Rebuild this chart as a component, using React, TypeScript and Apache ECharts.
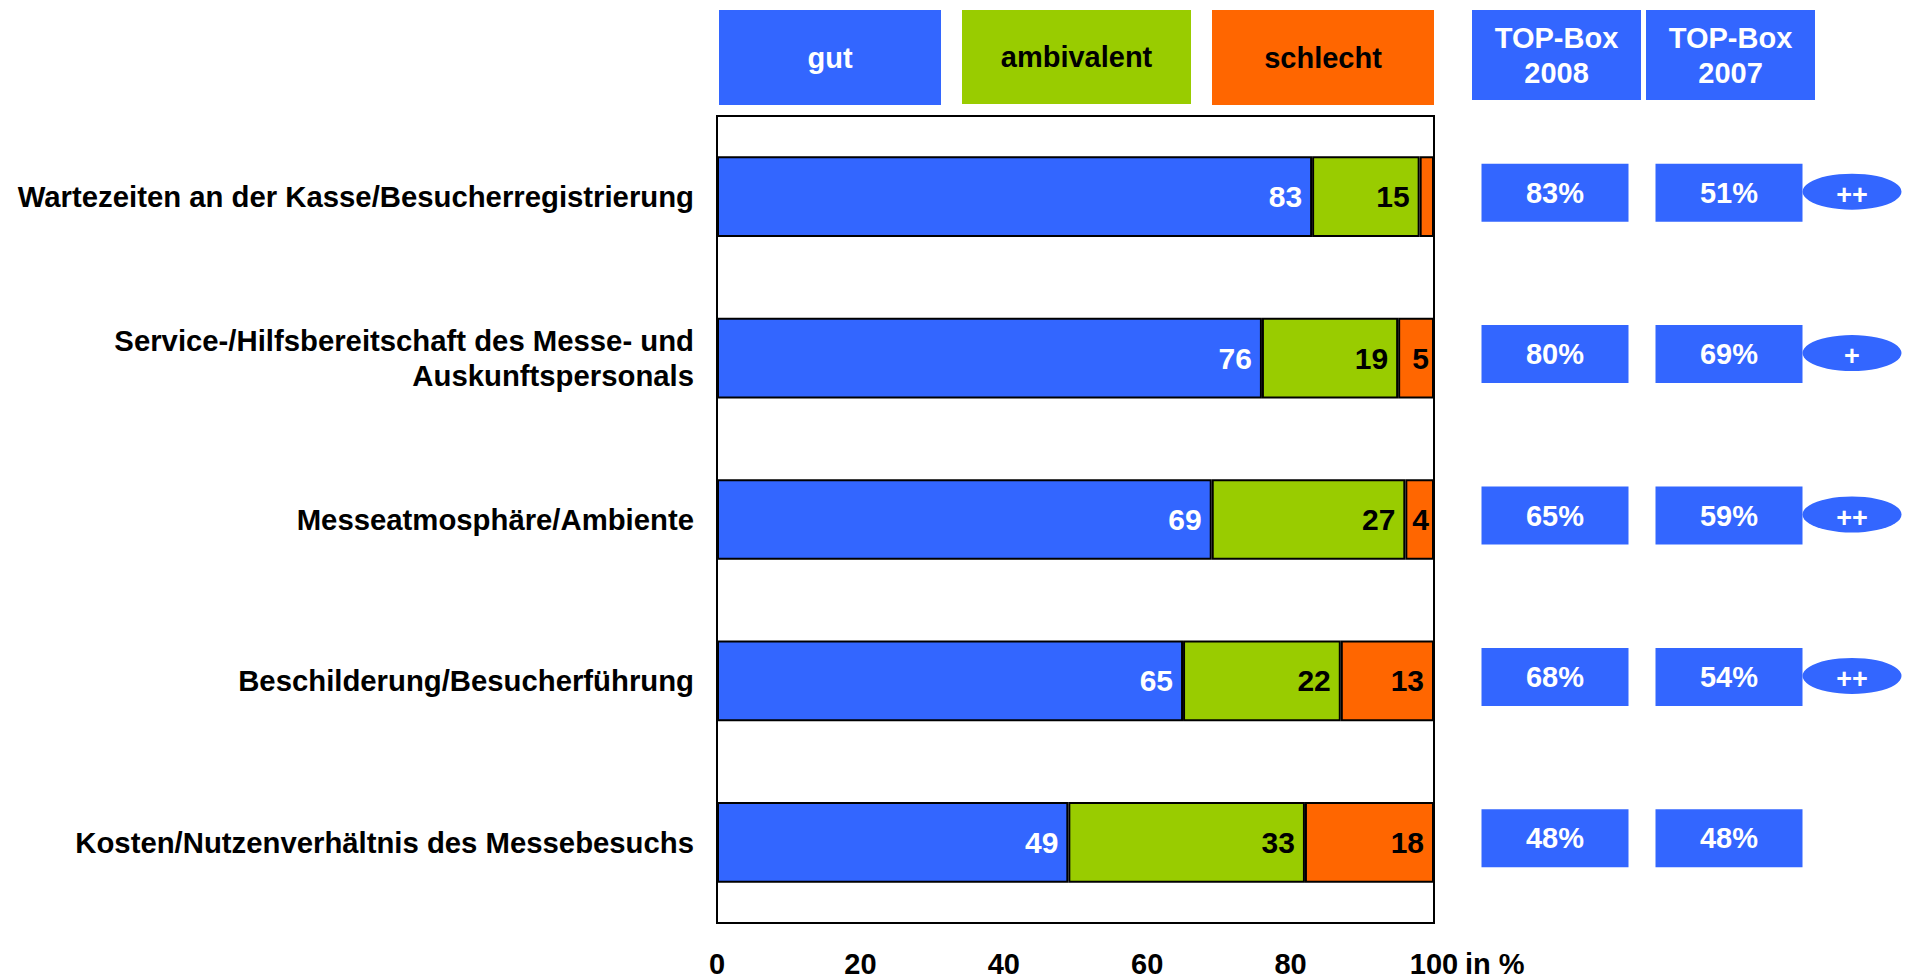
import React, { useEffect, useRef } from "react";
import * as echarts from "echarts";

const categories = [
  "Wartezeiten an der Kasse/Besucherregistrierung",
  "Service-/Hilfsbereitschaft des Messe- und\nAuskunftspersonals",
  "Messeatmosphäre/Ambiente",
  "Beschilderung/Besucherführung",
  "Kosten/Nutzenverhältnis des Messebesuchs",
];
const seriesNames = ["gut", "ambivalent", "schlecht"];
const gutValues = [83, 76, 69, 65, 49];
const ambivalentValues = [15, 19, 27, 22, 33];
const schlechtValues = [2, 5, 4, 13, 18];
const topBoxYears = ["2008", "2007"];
const topBox2008 = [83, 80, 65, 68, 48];
const topBox2007 = [51, 69, 59, 54, 48];
const trend = ["++", "+", "++", "++", ""];

const BLUE = "#3366FF";
const GREEN = "#99CC00";
const ORANGE = "#FF6600";
const FONT = "'Liberation Sans', Arial, Helvetica, sans-serif";

export default function App() {
  const ref = useRef<HTMLDivElement>(null);
  useEffect(() => {
    document.body.style.margin = "0";
    if (!ref.current) return;
    const chart = echarts.init(ref.current, undefined, { renderer: "svg" });

    const barLabel = (color: string) => ({
      show: true,
      position: "insideRight" as const,
      distance: 10,
      color,
      fontSize: 30,
      fontWeight: "bold" as const,
      fontFamily: FONT,
    });
    const mkData = (vals: number[]) =>
      vals.map((v) => ({
        value: v,
        label: { show: v >= 3, distance: v < 8 ? 5 : 10 },
      }));
    const colors = [BLUE, GREEN, ORANGE];
    const labelColors = ["#fff", "#000", "#000"];
    const valueSets = [gutValues, ambivalentValues, schlechtValues];

    const headerBox = (
      x: number,
      y: number,
      w: number,
      h: number,
      fill: string,
      text: string,
      color: string
    ) => ({
      type: "group",
      children: [
        { type: "rect", shape: { x, y, width: w, height: h }, style: { fill } },
        {
          type: "text",
          x: x + w / 2,
          y: y + h / 2,
          style: {
            text,
            fill: color,
            fontSize: 29,
            fontWeight: "bold",
            fontFamily: FONT,
            align: "center",
            verticalAlign: "middle",
            lineHeight: 35,
          },
        },
      ],
    });

    const option: any = {
      animation: false,
      textStyle: { fontFamily: FONT },
      grid: [
        {
          left: 717,
          right: 476,
          top: 116,
          bottom: 57,
          show: true,
          borderColor: "#000",
          borderWidth: 2,
          backgroundColor: "transparent",
        },
        { left: 1468, width: 348, top: 116, bottom: 57 },
      ],
      xAxis: [
        {
          type: "value",
          gridIndex: 0,
          min: 0,
          max: 100,
          interval: 20,
          splitLine: { show: false },
          axisLine: { show: false },
          axisTick: { show: false },
          axisLabel: {
            margin: 26,
            color: "#000",
            fontSize: 29,
            fontWeight: "bold",
            fontFamily: FONT,
          },
          name: "in %",
          nameLocation: "end",
          nameGap: 31,
          nameTextStyle: {
            color: "#000",
            fontSize: 29,
            fontWeight: "bold",
            fontFamily: FONT,
            align: "left",
            verticalAlign: "top",
            padding: [26, 0, 0, 0],
          },
        },
        {
          type: "category",
          gridIndex: 1,
          data: topBoxYears,
          show: false,
        },
      ],
      yAxis: [
        {
          type: "category",
          gridIndex: 0,
          data: categories,
          inverse: true,
          axisLine: { show: false },
          axisTick: { show: false },
          splitLine: { show: false },
          axisLabel: {
            margin: 23,
            color: "#000",
            fontSize: 29.3,
            fontWeight: "bold",
            fontFamily: FONT,
            lineHeight: 35,
            align: "right",
          },
        },
        {
          type: "category",
          gridIndex: 1,
          data: categories,
          inverse: true,
          show: false,
        },
      ],
      series: [
        ...seriesNames.map((name, si) => ({
          name,
          type: "bar",
          stack: "total",
          xAxisIndex: 0,
          yAxisIndex: 0,
          barWidth: "50%",
          itemStyle: { color: colors[si], borderColor: "#000", borderWidth: 2 },
          label: barLabel(labelColors[si]),
          data: mkData(valueSets[si]),
          silent: true,
        })),
        {
          name: "TOP-Box 2008",
          type: "scatter",
          xAxisIndex: 1,
          yAxisIndex: 1,
          symbol: "rect",
          symbolSize: [147, 58],
          symbolOffset: [0, -4],
          itemStyle: { color: BLUE, opacity: 1 },
          label: {
            show: true,
            position: "inside",
            formatter: (p: any) => topBox2008[p.dataIndex] + "%",
            color: "#fff",
            fontSize: 29,
            fontWeight: "bold",
            fontFamily: FONT,
          },
          data: topBox2008.map((_, i) => [0, i]),
          silent: true,
        },
        {
          name: "TOP-Box 2007",
          type: "scatter",
          xAxisIndex: 1,
          yAxisIndex: 1,
          symbol: "rect",
          symbolSize: [147, 58],
          symbolOffset: [0, -4],
          itemStyle: { color: BLUE, opacity: 1 },
          label: {
            show: true,
            position: "inside",
            formatter: (p: any) => topBox2007[p.dataIndex] + "%",
            color: "#fff",
            fontSize: 29,
            fontWeight: "bold",
            fontFamily: FONT,
          },
          data: topBox2007.map((_, i) => [1, i]),
          silent: true,
        },
        {
          name: "Trend",
          type: "scatter",
          xAxisIndex: 1,
          yAxisIndex: 1,
          symbol: "circle",
          symbolSize: [99, 36],
          symbolOffset: [123, -5],
          z: 5,
          itemStyle: { color: BLUE, opacity: 1 },
          label: {
            show: true,
            position: "inside",
            offset: [0, 3],
            formatter: (p: any) => p.name,
            color: "#fff",
            fontSize: 27,
            fontWeight: "bold",
            fontFamily: FONT,
          },
          data: trend
            .map((t, i) => ({ name: t, value: [1, i] }))
            .filter((d) => d.name !== ""),
          silent: true,
        },
      ],
      graphic: [
        headerBox(719, 10, 222, 95, BLUE, seriesNames[0], "#fff"),
        headerBox(962, 10, 229, 94, GREEN, seriesNames[1], "#000"),
        headerBox(1212, 10, 222, 95, ORANGE, seriesNames[2], "#000"),
        headerBox(1472, 10, 169, 90, BLUE, "TOP-Box\n" + topBoxYears[0], "#fff"),
        headerBox(1646, 10, 169, 90, BLUE, "TOP-Box\n" + topBoxYears[1], "#fff"),
      ],
    };
    chart.setOption(option);
    return () => chart.dispose();
  }, []);
  return <div ref={ref} style={{ width: 1910, height: 980 }} />;
}
